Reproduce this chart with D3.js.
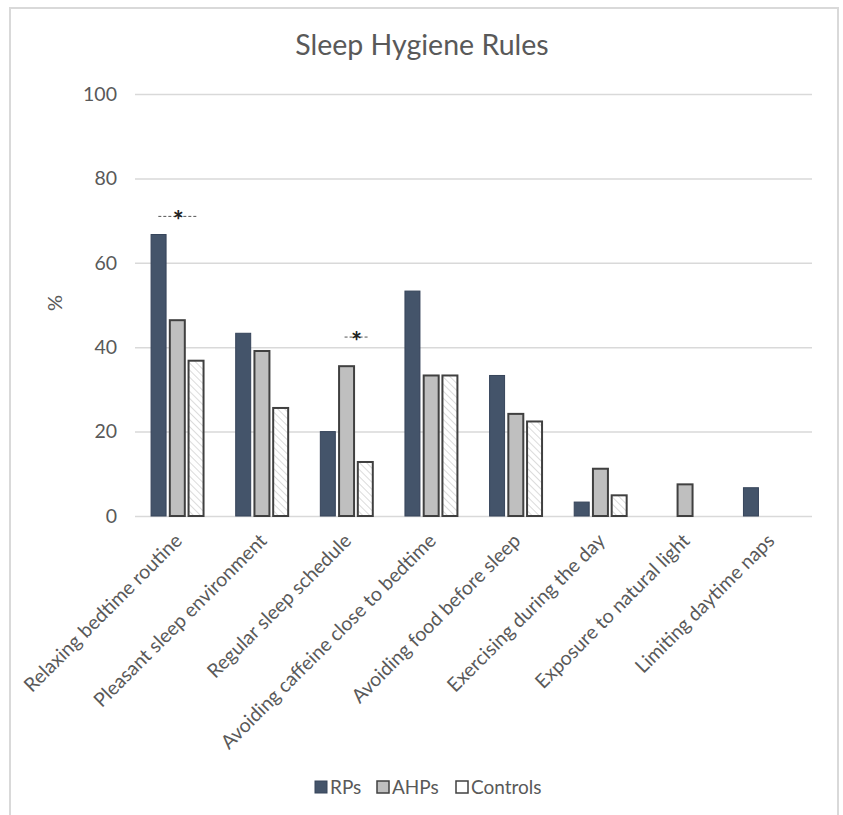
<!DOCTYPE html>
<html>
<head>
<meta charset="utf-8">
<script src="https://cdn.jsdelivr.net/npm/d3@7"></script>
<style>
  body { margin: 0; background: #fff; }
  text { font-family: Lato, "Open Sans", sans-serif; fill: #595959; }
</style>
</head>
<body>
<svg id="chart" width="843" height="815"></svg>
<script>
// data (percent)
const categories = [
  'Relaxing bedtime routine',
  'Pleasant sleep environment',
  'Regular sleep schedule',
  'Avoiding caffeine close to bedtime',
  'Avoiding food before sleep',
  'Exercising during the day',
  'Exposure to natural light',
  'Limiting daytime naps'
];
const seriesNames = ['RPs', 'AHPs', 'Controls'];
const rps      = [66.7, 43.3, 20.0, 53.3, 33.3, 3.3, 0, 6.7];
const ahps     = [46.4, 39.1, 35.5, 33.3, 24.2, 11.2, 7.5, 0];
const controls = [36.8, 25.6, 12.8, 33.3, 22.4, 4.9, 0, 0];
const yTicks = [0, 20, 40, 60, 80, 100];

// significance markers: category, value, centre offset (px from group centre), half width
const sigMarks = [
  { cat: 'Relaxing bedtime routine', value: 71, off: 1, half: 20 },
  { cat: 'Regular sleep schedule', value: 42.4, off: 10, half: 12 }
];

const svg = d3.select('#chart');
const margin = { top: 94, right: 31, bottom: 299, left: 135 };
const W = 843, H = 815;

// outer frame
svg.append('rect')
  .attr('x', 10).attr('y', 8)
  .attr('width', 828).attr('height', 820)
  .attr('fill', 'none')
  .attr('stroke', '#d9d9d9')
  .attr('stroke-width', 2);

// hatch for controls
const defs = svg.append('defs');
const pat = defs.append('pattern')
  .attr('id', 'hatch')
  .attr('patternUnits', 'userSpaceOnUse')
  .attr('width', 5).attr('height', 5)
  .attr('patternTransform', 'rotate(-45)');
pat.append('rect').attr('width', 5).attr('height', 5).attr('fill', '#fff');
pat.append('line')
  .attr('x1', 0).attr('y1', 0).attr('x2', 0).attr('y2', 5)
  .attr('stroke', '#c8c8c8').attr('stroke-width', 1.3);

const x0 = d3.scaleBand()
  .domain(categories)
  .range([margin.left, W - margin.right])
  .paddingInner(0.38)
  .paddingOuter(0.19);

const x1 = d3.scaleBand()
  .domain(seriesNames)
  .range([0, x0.bandwidth()])
  .paddingInner(0.2);

const y = d3.scaleLinear()
  .domain([0, 100])
  .range([H - margin.bottom, margin.top]);

const colors = { RPs: '#44546a', AHPs: '#bfbfbf', Controls: 'url(#hatch)' };
const strokes = { RPs: '#36445a', AHPs: '#404040', Controls: '#404040' };

// title
svg.append('text')
  .attr('x', 422).attr('y', 55)
  .attr('text-anchor', 'middle')
  .style('font-size', '28.5px')
  .text('Sleep Hygiene Rules');

// gridlines + y axis
const yAxis = d3.axisLeft(y).tickValues(yTicks).tickSize(-(W - margin.left - margin.right)).tickPadding(18);
const gy = svg.append('g')
  .attr('transform', `translate(${margin.left},0)`)
  .call(yAxis);
gy.select('.domain').remove();
gy.selectAll('.tick line').attr('stroke', '#d9d9d9').attr('stroke-width', 1.5);
gy.selectAll('.tick text')
  .style('font-size', '19.5px')
  .style('font-family', 'Lato, sans-serif')
  .attr('fill', '#595959');

// y label
svg.append('text')
  .attr('transform', 'translate(62,303) rotate(-90)')
  .attr('text-anchor', 'middle')
  .style('font-size', '20px')
  .text('%');

// bars
const rows = categories.map((c, i) => ({
  cat: c,
  vals: [
    { key: 'RPs', v: rps[i] },
    { key: 'AHPs', v: ahps[i] },
    { key: 'Controls', v: controls[i] }
  ]
}));

const groups = svg.append('g').selectAll('g')
  .data(rows)
  .join('g')
  .attr('transform', d => `translate(${x0(d.cat)},0)`);

groups.selectAll('rect')
  .data(d => d.vals.filter(s => s.v > 0))
  .join('rect')
  .attr('x', d => x1(d.key))
  .attr('y', d => y(d.v))
  .attr('width', x1.bandwidth())
  .attr('height', d => y(0) - y(d.v))
  .attr('fill', d => colors[d.key])
  .attr('stroke', d => strokes[d.key])
  .attr('stroke-width', d => d.key === 'RPs' ? 1 : 2);

// x labels
svg.append('g').selectAll('text')
  .data(categories)
  .join('text')
  .attr('transform', d => `translate(${x0(d) + x0.bandwidth() / 2 + 6},542) rotate(-45)`)
  .attr('text-anchor', 'end')
  .style('font-size', '19.5px')
  .text(d => d);

// significance markers
const sig = svg.append('g').selectAll('g')
  .data(sigMarks)
  .join('g')
  .attr('transform', d => `translate(${x0(d.cat) + x0.bandwidth() / 2 + d.off},${y(d.value)})`);
sig.append('line')
  .attr('x1', d => -d.half).attr('x2', d => d.half)
  .attr('stroke', '#555')
  .attr('stroke-width', 1)
  .attr('stroke-dasharray', '3,2');
sig.append('text')
  .attr('y', 14)
  .attr('text-anchor', 'middle')
  .style('font-size', '26px')
  .style('font-weight', 'bold')
  .style('fill', '#222')
  .text('*');

// legend
const legend = svg.append('g').attr('transform', 'translate(315,787)');
const legX = [0, 62, 141];
const leg = legend.selectAll('g')
  .data(seriesNames)
  .join('g')
  .attr('transform', (d, i) => `translate(${legX[i]},0)`);
leg.append('rect')
  .attr('x', 0).attr('y', -6)
  .attr('width', 12).attr('height', 12)
  .attr('fill', d => d === 'Controls' ? '#fff' : colors[d])
  .attr('stroke', d => strokes[d])
  .attr('stroke-width', d => d === 'RPs' ? 1 : 1.5);
leg.append('text')
  .attr('x', 15).attr('y', 7)
  .style('font-size', '19px')
  .text(d => d);
</script>
</body>
</html>
